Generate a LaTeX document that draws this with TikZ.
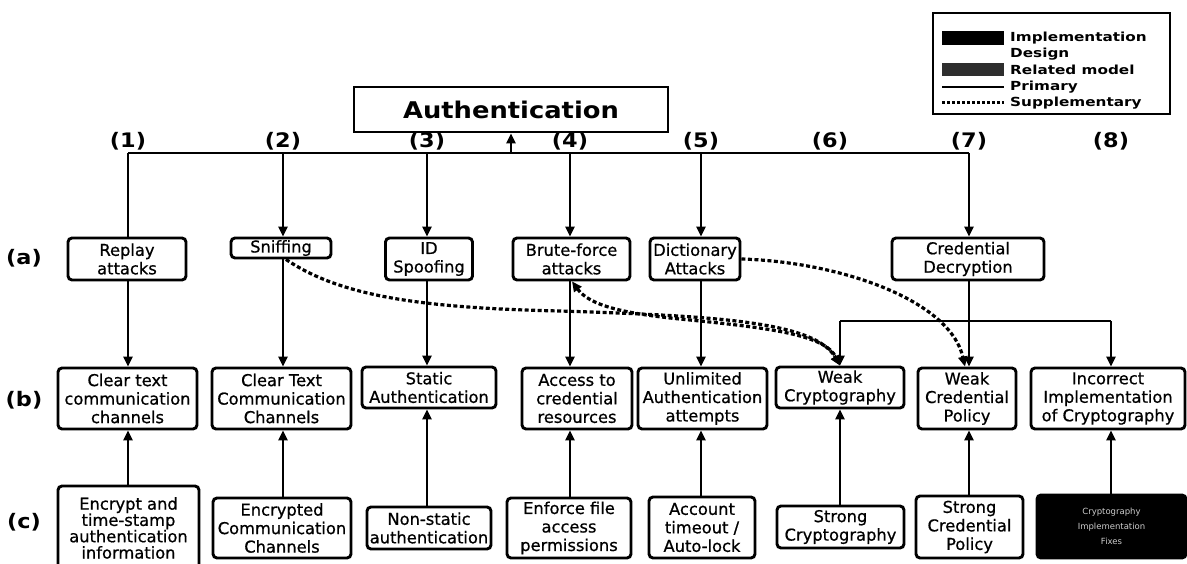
\documentclass[tikz,border=0pt]{standalone}
\usepackage{fontspec}
\setmainfont{DejaVu Sans}
\newfontfamily\boxfont{DejaVu Sans}[FakeBold=0.7]
\newfontfamily\heavyfont{DejaVu Sans}[FakeStretch=1.12]
\newfontfamily\keyfont{DejaVu Sans}[FakeStretch=1.22]
\usetikzlibrary{arrows.meta}

\tikzset{
  x=1pt, y=-1pt,
  tip/.tip={Triangle[length=10pt,width=9pt]},
  box/.style={draw, line width=2.9pt, rounded corners=4pt, align=center,
    inner sep=0pt, font=\boxfont\fontsize{16.3}{18.5}\selectfont},
  darkbox/.style={box, fill=black, text=white!80!black,
    font=\fontsize{8.5}{15}\selectfont},
  wire/.style={line width=2.9pt},
  prim/.style={wire, -tip},
  supp/.style={line width=3.2pt, dash pattern=on 4pt off 2.5pt, -tip},
  lbl/.style={font=\heavyfont\bfseries\fontsize{20}{22}\selectfont},
  legtext/.style={anchor=west, inner sep=0pt,
    font=\keyfont\bfseries\fontsize{12.5}{15}\selectfont}
}

\begin{document}
\begin{tikzpicture}
\useasboundingbox[fill=white] (0,0) rectangle (1187,564);

% ---------- legend ----------
\node[draw, line width=2.4pt, minimum width=237pt, minimum height=101pt,
  inner sep=0pt] (legend) at (1051.5,63.5) {};
\node[fill=black, minimum width=62pt, minimum height=14pt, inner sep=0pt]
  (swImpl) at (973,38) {};
\node[fill=black!82, minimum width=62pt, minimum height=13pt, inner sep=0pt]
  (swRel) at (973,70) {};
\coordinate (prA) at (942,87);  \coordinate (prB) at (1004,87);
\coordinate (spA) at (942,103); \coordinate (spB) at (1004,103);
\draw[wire] (prA) -- (prB);
\draw[line width=3pt, dash pattern=on 3pt off 2pt] (spA) -- (spB);
\node[legtext] (tImpl) at (1010,38)  {Implementation};
\node[legtext] (tDes)  at (1010,54)  {Design};
\node[legtext] (tRel)  at (1010,70)  {Related model};
\node[legtext] (tPri)  at (1010,87)  {Primary};
\node[legtext] (tSup)  at (1010,103) {Supplementary};

% ---------- root ----------
\node[draw, line width=2.9pt, minimum width=314pt, minimum height=45pt,
  inner sep=0pt, font=\heavyfont\bfseries\fontsize{23}{26}\selectfont]
  (auth) at (511,109.5) {Authentication};

% ---------- column labels and bus ----------
\coordinate (k1) at (128,153);
\coordinate (k2) at (283,153);
\coordinate (k3) at (427,153);
\coordinate (k4) at (570,153);
\coordinate (k5) at (701,153);
\coordinate (k6) at (830,153);
\coordinate (k7) at (969,153);
\coordinate (k8) at (1111,153);
\coordinate (kA) at (511,153);
\foreach \i in {1,...,8}
  \node[lbl] (n\i) at ([yshift=12pt]k\i) {(\i)};

\node[lbl] (ra) at (24,258) {(a)};
\node[lbl] (rb) at (24,400) {(b)};
\node[lbl] (rc) at (24,522) {(c)};

% ---------- row (a): attacks ----------
\node[box, minimum width=118pt, minimum height=42pt] (a1) at (127,259) {Replay\\attacks};
\node[box, minimum width=100pt, minimum height=20pt] (a2) at (281,248) {Sniffing};
\node[box, minimum width=87pt,  minimum height=42pt] (a3) at (429,259) {ID\\Spoofing};
\node[box, minimum width=117pt, minimum height=42pt] (a4) at (571.5,259) {Brute-force\\attacks};
\node[box, minimum width=90pt,  minimum height=42pt] (a5) at (695,259) {Dictionary\\Attacks};
\node[box, minimum width=152pt, minimum height=42pt] (a7) at (968,259) {Credential\\Decryption};

% ---------- row (b): weaknesses ----------
\node[box, minimum width=139pt, minimum height=61pt] (b1) at (127.5,398.5) {Clear text\\communication\\channels};
\node[box, minimum width=139pt, minimum height=61pt] (b2) at (281.5,398.5) {Clear Text\\Communication\\Channels};
\node[box, minimum width=134pt, minimum height=41pt] (b3) at (429,387.5) {Static\\Authentication};
\node[box, minimum width=110pt, minimum height=61pt] (b4) at (577,398.5) {Access to\\credential\\resources};
\node[box, minimum width=129pt, minimum height=61pt] (b5) at (702.5,398.5) {Unlimited\\Authentication\\attempts};
\node[box, minimum width=128pt, minimum height=41pt] (b6) at (840,387.5) {Weak\\Cryptography};
\node[box, minimum width=98pt,  minimum height=61pt] (b7) at (967,398.5) {Weak\\Credential\\Policy};
\node[box, minimum width=154pt, minimum height=61pt] (b8) at (1108,398.5) {Incorrect\\Implementation\\of Cryptography};

% ---------- row (c): countermeasures ----------
\node[box, minimum width=141pt, minimum height=84pt,
  font=\boxfont\fontsize{16.3}{16.3}\selectfont] (c1) at (128.5,528)
  {Encrypt and\\time-stamp\\authentication\\information};
\node[box, minimum width=138pt, minimum height=60pt] (c2) at (282,528) {Encrypted\\Communication\\Channels};
\node[box, minimum width=124pt, minimum height=42pt] (c3) at (429,528) {Non-static\\authentication};
\node[box, minimum width=124pt, minimum height=60pt] (c4) at (569,528) {Enforce file\\access\\permissions};
\node[box, minimum width=106pt, minimum height=61pt] (c5) at (702,527.5) {Account\\timeout /\\Auto-lock};
\node[box, minimum width=127pt, minimum height=42pt] (c6) at (840.5,527) {Strong\\Cryptography};
\node[box, minimum width=107pt, minimum height=62pt] (c7) at (969.5,527) {Strong\\Credential\\Policy};
\node[darkbox, minimum width=149pt, minimum height=63pt] (c8) at (1111.5,526.5) {Cryptography\\Implementation\\Fixes};

% ---------- primary connectors: root to attacks ----------
\draw[wire] (k1) -- (k7);
\draw[prim] (kA) -- (auth.south);
\draw[wire] (k1) -- (k1 |- a1.north);
\draw[prim] (k2) -- (k2 |- a2.north);
\draw[prim] (k3) -- (k3 |- a3.north);
\draw[prim] (k4) -- (k4 |- a4.north);
\draw[prim] (k5) -- (k5 |- a5.north);
\draw[prim] (k7) -- (k7 |- a7.north);

% ---------- attacks to weaknesses ----------
\draw[prim] (k1 |- a1.south) -- (k1 |- b1.north);
\draw[prim] (k2 |- a2.south) -- (k2 |- b2.north);
\draw[prim] (k3 |- a3.south) -- (k3 |- b3.north);
\draw[prim] (k4 |- a4.south) -- (k4 |- b4.north);
\draw[prim] (k5 |- a5.south) -- (k5 |- b5.north);
\coordinate (j6) at (840,321);
\coordinate (j7) at (969,321);
\coordinate (j8) at (1111,321);
\draw[prim] (k7 |- a7.south) -- (k7 |- b7.north);
\draw[wire] (j6) -- (j8);
\draw[prim] (j6) -- (j6 |- b6.north);
\draw[prim] (j8) -- (j8 |- b8.north);

% ---------- countermeasures to weaknesses ----------
\draw[prim] (k1 |- c1.north) -- (k1 |- b1.south);
\draw[prim] (k2 |- c2.north) -- (k2 |- b2.south);
\draw[prim] (k3 |- c3.north) -- (k3 |- b3.south);
\draw[prim] (k4 |- c4.north) -- (k4 |- b4.south);
\draw[prim] (k5 |- c5.north) -- (k5 |- b5.south);
\draw[prim] (j6 |- c6.north) -- (j6 |- b6.south);
\draw[prim] (j7 |- c7.north) -- (j7 |- b7.south);
\draw[prim] (j8 |- c8.north) -- (j8 |- b8.south);

% ---------- supplementary connectors ----------
\draw[supp] ([xshift=5pt]a2.south) .. controls (340,296) and (420,308) .. (560,311)
  .. controls (720,316) and (815,322) .. (j6 |- b6.north);
\draw[supp, tip-tip] ([xshift=2pt]k4 |- a4.south) .. controls (590,306) and (625,314) .. (690,320)
  .. controls (770,328) and (825,335) .. (j6 |- b6.north);
\draw[supp] (a5.east) .. controls (840,262) and (950,300) .. ([xshift=-4pt]j7 |- b7.north);

\end{tikzpicture}
\end{document}
